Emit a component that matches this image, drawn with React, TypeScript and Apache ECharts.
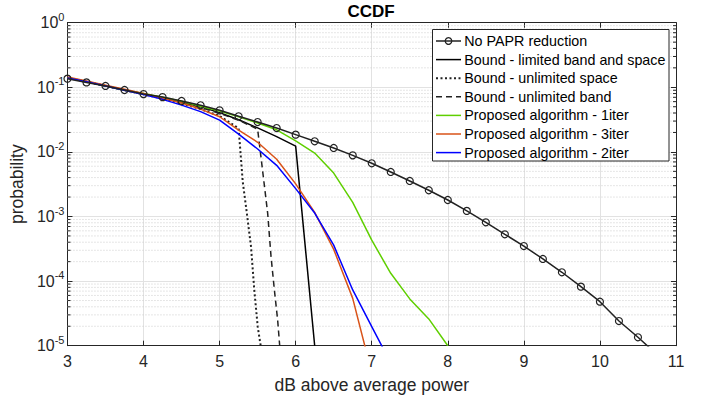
import React, { useEffect, useRef } from "react";
import * as echarts from "echarts";

// x grid in dB (0.25 dB steps)
const gridX = [3, 3.25, 3.5, 3.75, 4, 4.25, 4.5, 4.75, 5, 5.25, 5.5, 5.75, 6, 6.25, 6.5, 6.75, 7, 7.25, 7.5, 7.75, 8, 8.25, 8.5, 8.75, 9, 9.25, 9.5, 9.75, 10, 10.25, 10.5, 10.75];

const noPaprY = [0.136, 0.119, 0.105, 0.0908, 0.0785, 0.0705, 0.0614, 0.0527, 0.044, 0.0356, 0.029, 0.0234, 0.0185, 0.0146, 0.0115, 0.00885, 0.00666, 0.00489, 0.00355, 0.00255, 0.0018, 0.00122, 0.000813, 0.00053, 0.000349, 0.00022, 0.000137, 8.2e-5, 4.8e-5, 2.41e-5, 1.35e-5, 7.3e-6];

const boundBandSpaceY = [0.14, 0.122, 0.106, 0.091, 0.079, 0.069, 0.059, 0.05, 0.0405, 0.0315, 0.0235, 0.0172, 0.0123, 1e-5];

const unlimSpaceHeadY = [0.14, 0.122, 0.105, 0.09, 0.078, 0.067, 0.056, 0.046, 0.036, 0.0232];
const unlimSpaceTailX = [5.304, 5.347, 5.413, 5.456, 5.501, 5.54];
const unlimSpaceTailY = [0.00346, 0.00142, 0.000341, 7.3e-5, 1.97e-5, 1e-5];

const unlimBandHeadY = [0.14, 0.122, 0.106, 0.091, 0.079, 0.068, 0.058, 0.049, 0.0395, 0.031, 0.0225];
const unlimBandTailX = [5.58, 5.632, 5.676, 5.72, 5.763, 5.79];
const unlimBandTailY = [0.00366, 0.00112, 0.00024, 7.3e-5, 2.5e-5, 1e-5];

const iter1Y = [0.14, 0.122, 0.106, 0.091, 0.08, 0.07, 0.061, 0.051, 0.043, 0.035, 0.028, 0.022, 0.0148, 0.0096, 0.0047, 0.00165, 0.00043, 0.000132, 5.3e-5, 2.6e-5, 1e-5];
const iter3Y = [0.145, 0.125, 0.108, 0.093, 0.08, 0.068, 0.057, 0.046, 0.035, 0.0218, 0.0141, 0.0077, 0.0032, 0.00116, 0.00031, 5.4e-5, 3.8e-6];
const iter2Y = [0.14, 0.122, 0.105, 0.09, 0.077, 0.065, 0.053, 0.042, 0.031, 0.0188, 0.0111, 0.0062, 0.0027, 0.00113, 0.00036, 7.3e-5, 1.97e-5, 5.4e-6];

const minorY = [
  2e-5, 3e-5, 4e-5, 5e-5, 6e-5, 7e-5, 8e-5, 9e-5,
  2e-4, 3e-4, 4e-4, 5e-4, 6e-4, 7e-4, 8e-4, 9e-4,
  2e-3, 3e-3, 4e-3, 5e-3, 6e-3, 7e-3, 8e-3, 9e-3,
  2e-2, 3e-2, 4e-2, 5e-2, 6e-2, 7e-2, 8e-2, 9e-2,
  0.2, 0.3, 0.4, 0.5, 0.6, 0.7, 0.8, 0.9,
];

const names = [
  "No PAPR reduction",
  "Bound - limited band and space",
  "Bound - unlimited space",
  "Bound - unlimited band",
  "Proposed algorithm - 1iter",
  "Proposed algorithm - 3iter",
  "Proposed algorithm - 2iter",
];

const colors = ["#222222", "#000000", "#222222", "#222222", "#5fcf00", "#d95319", "#0000ff"];
const widths = [1.5, 1.5, 2, 1.5, 1.5, 1.5, 1.5];
const dashes: (number[] | null)[] = [null, null, [2, 2.5], [6, 4], null, null, null];

const FONT = "'Liberation Sans', Arial, Helvetica, sans-serif";
const AX = "#262626";

const zip = (xs: number[], ys: number[]) => ys.map((y, i) => [xs[i], y]);

export default function App() {
  const ref = useRef<HTMLDivElement>(null);
  useEffect(() => {
    if (!ref.current) return;
    const chart = echarts.init(ref.current, undefined, { renderer: "svg" });

    const noPaprData: any[] = zip(gridX, noPaprY);
    noPaprData[noPaprData.length - 1] = { value: noPaprData[noPaprData.length - 1], symbol: "none" };

    const seriesData = [
      noPaprData,
      zip(gridX, boundBandSpaceY),
      [...zip(gridX, unlimSpaceHeadY), ...zip(unlimSpaceTailX, unlimSpaceTailY)],
      [...zip(gridX, unlimBandHeadY), ...zip(unlimBandTailX, unlimBandTailY)],
      zip(gridX, iter1Y),
      zip(gridX, iter3Y),
      zip(gridX, iter2Y),
    ];

    // manual MATLAB-style legend
    const lgX = 432.5, lgY = 29.5, lgW = 236.5, lgH = 131.5;
    const row0 = 41, rowStep = 18.6;
    const legendEls: any[] = [
      {
        type: "rect",
        shape: { x: lgX, y: lgY, width: lgW, height: lgH },
        style: { fill: "#fff", stroke: AX, lineWidth: 1 },
        z: 10,
      },
    ];
    names.forEach((n, i) => {
      const cy = row0 + i * rowStep;
      legendEls.push({
        type: "line",
        shape: { x1: 436, y1: cy, x2: 461, y2: cy },
        style: { stroke: colors[i], lineWidth: widths[i], lineDash: dashes[i] || undefined },
        z: 11,
      });
      if (i === 0) {
        legendEls.push({
          type: "circle",
          shape: { cx: 448.5, cy, r: 3.3 },
          style: { fill: "none", stroke: "#222", lineWidth: 1.2 },
          z: 12,
        });
      }
      legendEls.push({
        type: "text",
        x: 464.3,
        y: cy,
        style: {
          text: n,
          fontFamily: FONT,
          fontSize: 14.3,
          fill: "#000",
          align: "left",
          verticalAlign: "middle",
        },
        z: 12,
      });
    });

    const option: any = {
      animation: false,
      backgroundColor: "#fff",
      textStyle: { fontFamily: FONT },
      graphic: [
        {
          type: "text",
          x: 371,
          y: 11,
          style: {
            text: "CCDF",
            fontFamily: FONT,
            fontSize: 17,
            fontWeight: "bold",
            fill: "#000",
            align: "center",
            verticalAlign: "middle",
          },
        },
        ...legendEls,
      ],
      grid: { left: 66, right: 34, top: 22.7, bottom: 54.3, containLabel: false },
      xAxis: [
        {
          type: "value",
          min: 3,
          max: 11,
          interval: 1,
          position: "bottom",
          name: "dB above average power",
          nameLocation: "middle",
          nameGap: 30,
          nameTextStyle: { fontSize: 17.5, color: AX, fontFamily: FONT },
          axisLine: { show: true, onZero: false, lineStyle: { color: AX, width: 1 } },
          axisTick: { show: true, inside: true, length: 5, lineStyle: { color: AX } },
          axisLabel: { fontSize: 16, color: AX, margin: 8, fontFamily: FONT },
          splitLine: { show: true, lineStyle: { color: "#e2e2e2", width: 1 } },
        },
        {
          type: "value",
          min: 3,
          max: 11,
          interval: 1,
          position: "top",
          axisLine: { show: true, onZero: false, lineStyle: { color: AX, width: 1 } },
          axisTick: { show: true, inside: true, length: 5, lineStyle: { color: AX } },
          axisLabel: { show: false },
          splitLine: { show: false },
        },
      ],
      yAxis: [
        {
          type: "log",
          logBase: 10,
          min: 1e-5,
          max: 1,
          position: "left",
          name: "probability",
          nameLocation: "middle",
          nameGap: 37,
          nameTextStyle: { fontSize: 17.5, color: AX, fontFamily: FONT },
          axisLine: { show: true, onZero: false, lineStyle: { color: AX, width: 1 } },
          axisTick: { show: true, inside: true, length: 5, lineStyle: { color: AX } },
          axisLabel: {
            margin: 3,
            formatter: (v: number) => `{b|10}{s|${Math.round(Math.log10(v))}}`,
            rich: {
              b: { fontSize: 16, color: AX, fontFamily: FONT },
              s: { fontSize: 11, color: AX, fontFamily: FONT, padding: [0, 0, 12, 0] },
            },
          },
          splitLine: { show: true, lineStyle: { color: "#e2e2e2", width: 1 } },
        },
        {
          type: "log",
          logBase: 10,
          min: 1e-5,
          max: 1,
          position: "right",
          axisLine: { show: true, onZero: false, lineStyle: { color: AX, width: 1 } },
          axisTick: { show: true, inside: true, length: 5, lineStyle: { color: AX } },
          axisLabel: { show: false },
          splitLine: { show: false },
        },
      ],
      series: [
        {
          type: "custom",
          name: "minor",
          xAxisIndex: 0,
          yAxisIndex: 0,
          silent: true,
          z: 1,
          clip: false,
          data: minorY.map((v) => [3, v]),
          encode: { x: 0, y: 1 },
          renderItem: (params: any, api: any) => {
            const cs = params.coordSys;
            const y = api.coord([3, api.value(1)])[1];
            return {
              type: "group",
              children: [
                {
                  type: "line",
                  shape: { x1: cs.x, y1: y, x2: cs.x + cs.width, y2: y },
                  style: { stroke: "#cccccc", lineWidth: 1, lineDash: [1, 2] },
                },
                {
                  type: "line",
                  shape: { x1: cs.x, y1: y, x2: cs.x + 3, y2: y },
                  style: { stroke: AX, lineWidth: 1 },
                },
                {
                  type: "line",
                  shape: { x1: cs.x + cs.width - 3, y1: y, x2: cs.x + cs.width, y2: y },
                  style: { stroke: AX, lineWidth: 1 },
                },
              ],
            };
          },
        },
        ...names.map((n, i) => {
          const s: any = {
            type: "line",
            name: n,
            xAxisIndex: 0,
            yAxisIndex: 0,
            clip: true,
            z: i === 0 ? 4 : 3,
            symbol: "none",
            emphasis: { disabled: true },
            data: seriesData[i],
            itemStyle: { color: colors[i] },
            lineStyle: { color: colors[i], width: widths[i], type: dashes[i] || "solid" },
          };
          if (i === 0) {
            s.symbol = "circle";
            s.symbolSize = 7;
            s.showSymbol = true;
            s.itemStyle = { color: "transparent", borderColor: "#222", borderWidth: 1.2 };
          }
          return s;
        }),
      ],
    };

    chart.setOption(option);
    return () => chart.dispose();
  }, []);

  return (
    <div
      ref={ref}
      style={{ position: "fixed", left: 0, top: 0, width: 710, height: 400 }}
    />
  );
}
